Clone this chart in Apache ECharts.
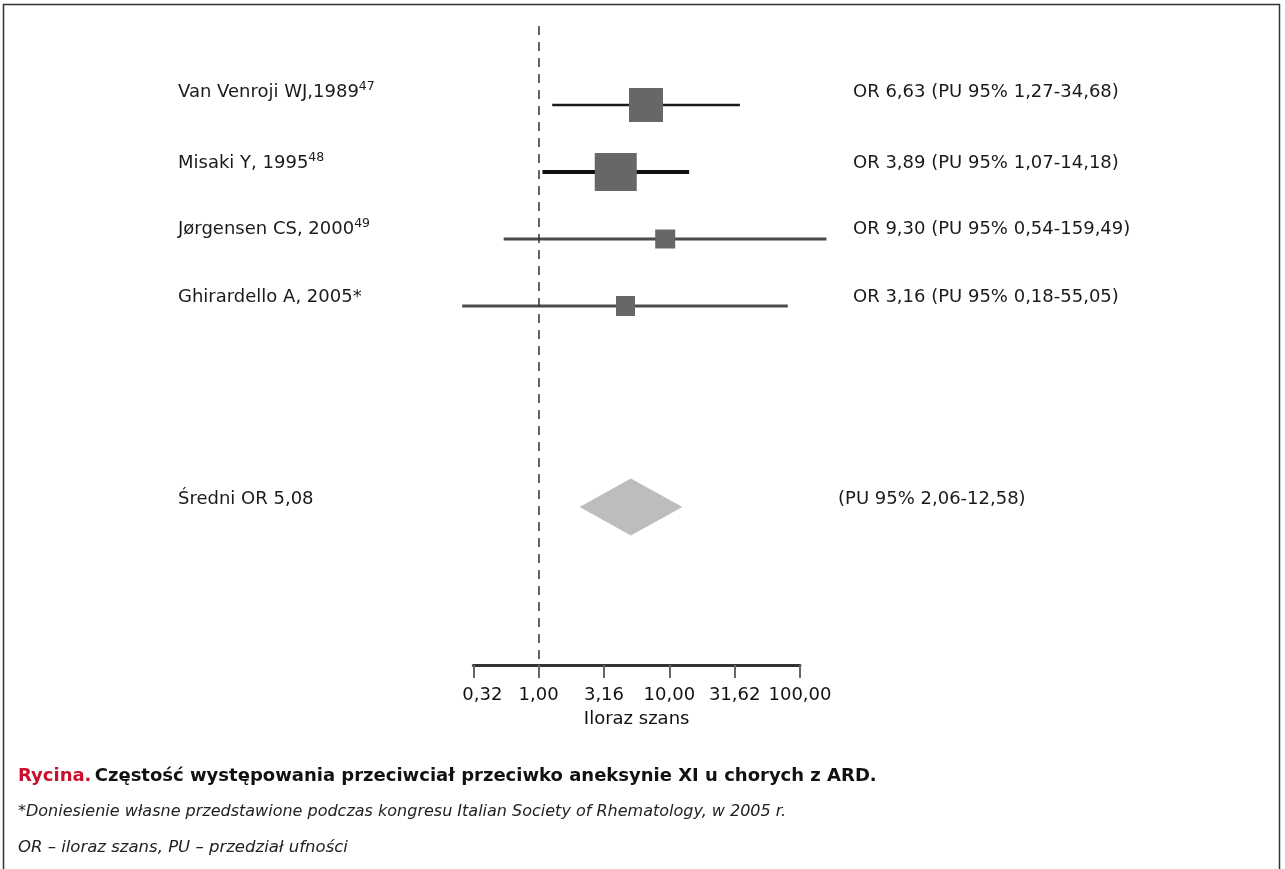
<!DOCTYPE html>
<html><head><meta charset="utf-8">
<script src="https://cdn.jsdelivr.net/npm/echarts@6/dist/echarts.min.js"></script>
<style>html,body{margin:0;padding:0;background:#fff}#c{width:1285px;height:869px}</style>
</head><body><div id="c"></div>
<script>
// ---- data ----
const studies = ['Van Venroji WJ,1989', 'Misaki Y, 1995', 'Jørgensen CS, 2000', 'Ghirardello A, 2005*'];
const refs = ['47', '48', '49', ''];
const orLabels = ['OR 6,63 (PU 95% 1,27-34,68)', 'OR 3,89 (PU 95% 1,07-14,18)', 'OR 9,30 (PU 95% 0,54-159,49)', 'OR 3,16 (PU 95% 0,18-55,05)'];
// positions as drawn in the picture
const orValues = [6.63, 3.89, 9.30, 4.62];
const ciLow = [1.27, 1.07, 0.54, 0.26];
const ciHigh = [34.68, 14.18, 159.49, 80.6];
const pooledLabel = 'Średni OR 5,08';
const pooledCiLabel = '(PU 95% 2,06-12,58)';
const pooledOR = 5.08;
const pooledLow = 2.06;
const pooledHigh = 12.58;
const tickLabels = ['0,32', '1,00', '3,16', '10,00', '31,62', '100,00'];

// ---- layout / style ----
const FONT = 'DejaVu Sans';
const rowIndex = [0, 1, 2, 3];
const pooledRow = 6;
const boxW = [34, 42, 20, 19];
const boxH = [34, 38, 19, 20];
const lineW = [2.5, 4, 3, 3];
const lineC = ['#1a1a1a', '#111111', '#4a4a4a', '#4a4a4a'];
const textDy = [-13, -9, -10, -9];
const pooledDy = -8;
const xMin = -0.5, xMax = 2, xStep = 0.5;
const yMin = -1.179, yMax = 8.358;
const lg = v => Math.log10(v);

const chart = echarts.init(document.getElementById('c'), null, {renderer: 'canvas'});

const studyData = studies.map((s, i) => [lg(orValues[i]), rowIndex[i], lg(ciLow[i]), lg(ciHigh[i]), i]);

const option = {
  animation: false,
  backgroundColor: '#fff',
  textStyle: {fontFamily: FONT},
  grid: {left: 473.3, width: 326.7, top: 26, height: 639},
  xAxis: {
    type: 'value', min: xMin, max: xMax, interval: xStep,
    axisLine: {show: true, onZero: false, lineStyle: {color: '#333', width: 3}},
    axisTick: {show: true, length: 13, lineStyle: {color: '#666', width: 2}},
    axisLabel: {margin: 21, fontSize: 18, color: '#111', fontFamily: FONT,
      formatter: v => {
        const k = Math.round((v - xMin) / xStep);
        return k === 0 ? '{f|' + tickLabels[k] + '}' : tickLabels[k];
      },
      rich: {f: {fontSize: 18, fontFamily: FONT, color: '#111', padding: [0, 0, 0, 18]}}},
    splitLine: {show: false},
    name: 'Iloraz szans', nameLocation: 'middle', nameGap: 45,
    nameTextStyle: {fontSize: 18, color: '#111', fontFamily: FONT}
  },
  yAxis: {type: 'value', min: yMin, max: yMax, inverse: true, show: false},
  series: [
    {
      type: 'custom', clip: false,
      data: studyData,
      renderItem: (params, api) => {
        const i = api.value(4);
        const c = api.coord([api.value(0), api.value(1)]);
        const l = api.coord([api.value(2), api.value(1)]);
        const h = api.coord([api.value(3), api.value(1)]);
        const sup = refs[i] ? '{s|' + refs[i] + '}' : '';
        return {
          type: 'group',
          children: [
            {type: 'line', shape: {x1: l[0], y1: l[1], x2: h[0], y2: h[1]},
              style: {stroke: lineC[i], lineWidth: lineW[i]}},
            {type: 'rect', shape: {x: c[0] - boxW[i] / 2, y: c[1] - boxH[i] / 2, width: boxW[i], height: boxH[i]},
              style: {fill: '#676767'}},
            {type: 'text', style: {
              text: '{n|' + studies[i] + '}' + sup, x: 178, y: c[1] + textDy[i],
              align: 'left', verticalAlign: 'middle', textAlign: 'left', textVerticalAlign: 'middle',
              rich: {
                n: {fontSize: 18, fontFamily: FONT, fill: '#1a1a1a', lineHeight: 24},
                s: {fontSize: 12.5, fontFamily: FONT, fill: '#1a1a1a', lineHeight: 14, verticalAlign: 'top'}
              }}},
            {type: 'text', style: {
              text: orLabels[i], x: 853, y: c[1] + textDy[i], fill: '#1a1a1a',
              font: '18px "' + FONT + '"', align: 'left', verticalAlign: 'middle',
              textAlign: 'left', textVerticalAlign: 'middle'}}
          ]
        };
      },
      markLine: {
        silent: true, symbol: 'none', label: {show: false},
        lineStyle: {color: '#333', width: 1.5, type: [9, 7]},
        data: [{xAxis: 0}]
      }
    },
    {
      type: 'custom', clip: false,
      data: [[lg(pooledOR), pooledRow, lg(pooledLow), lg(pooledHigh)]],
      renderItem: (params, api) => {
        const c = api.coord([api.value(0), api.value(1)]);
        const l = api.coord([api.value(2), api.value(1)]);
        const h = api.coord([api.value(3), api.value(1)]);
        const hh = 28.5;
        return {
          type: 'group',
          children: [
            {type: 'polygon', shape: {points: [[l[0], c[1]], [c[0], c[1] - hh], [h[0], c[1]], [c[0], c[1] + hh]]},
              style: {fill: '#bdbdbd'}},
            {type: 'text', style: {text: pooledLabel, x: 178, y: c[1] + pooledDy, fill: '#1a1a1a',
              font: '18px "' + FONT + '"', align: 'left', verticalAlign: 'middle', textAlign: 'left', textVerticalAlign: 'middle'}},
            {type: 'text', style: {text: pooledCiLabel, x: 838, y: c[1] + pooledDy, fill: '#1a1a1a',
              font: '18px "' + FONT + '"', align: 'left', verticalAlign: 'middle', textAlign: 'left', textVerticalAlign: 'middle'}}
          ]
        };
      }
    }
  ],
  graphic: [
    {type: 'rect', shape: {x: 3.5, y: 4.5, width: 1276, height: 900}, style: {fill: 'none', stroke: '#333', lineWidth: 1.5}, silent: true},
    {type: 'text', x: 18, y: 776, style: {
      text: '{r|Rycina.} {b|Częstość występowania przeciwciał przeciwko aneksynie XI u chorych z ARD.}',
      verticalAlign: 'middle', textVerticalAlign: 'middle',
      rich: {
        r: {fill: '#c8102e', fontSize: 18, fontWeight: 'bold', fontFamily: FONT},
        b: {fill: '#111', fontSize: 18, fontWeight: 'bold', fontFamily: FONT}
      }}},
    {type: 'text', x: 18, y: 812, style: {
      text: '*Doniesienie własne przedstawione podczas kongresu Italian Society of Rhematology, w 2005 r.',
      fill: '#222', font: 'italic 16px "' + FONT + '"', verticalAlign: 'middle', textVerticalAlign: 'middle'}},
    {type: 'text', x: 18, y: 848, style: {
      text: 'OR – iloraz szans, PU – przedział ufności',
      fill: '#222', font: 'italic 16.5px "' + FONT + '"', verticalAlign: 'middle', textVerticalAlign: 'middle'}}
  ]
};
chart.setOption(option);
</script>
</body></html>
